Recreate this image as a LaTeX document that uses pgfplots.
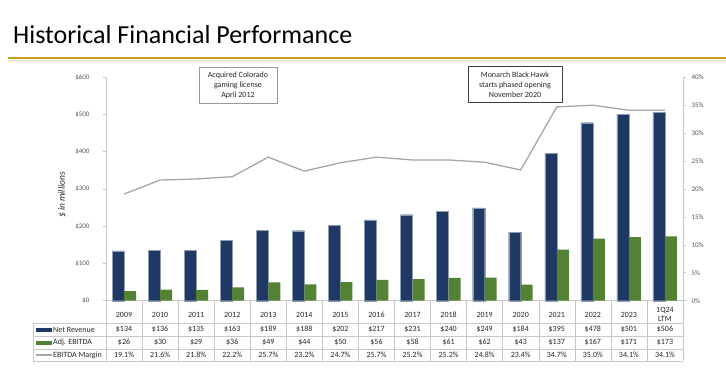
\documentclass[border=0pt]{standalone}
\usepackage{pgfplots}
\pgfplotsset{compat=1.18}
\usepackage{fontspec}
\setmainfont{Carlito}
\definecolor{navy}{RGB}{31,56,100}
\definecolor{bargreen}{RGB}{84,130,53}
\definecolor{linegray}{RGB}{166,166,166}
\definecolor{gold}{RGB}{200,158,30}
\definecolor{gridc}{RGB}{200,200,200}
\definecolor{tickc}{RGB}{89,89,89}
\begin{document}
\begin{tikzpicture}
\begin{scope}[x=1pt,y=1pt]
\useasboundingbox (0,0) rectangle (726,372);
\node[anchor=base west, inner sep=0, font=\fontsize{26}{30}\selectfont] at (13,328.7) {Historical Financial Performance};
\draw[gold!22, line width=2pt] (8,311.2) -- (726,311.2);
\draw[gold, line width=1.6pt] (8,313.7) -- (726,313.7);
\end{scope}

\begin{axis}[at={(106pt,71.3pt)}, anchor=south west, scale only axis,
  width=577pt, height=223.4pt,
  xmin=-0.5, xmax=15.5, ymin=0, ymax=600,
  axis x line*=bottom, axis y line*=left,
  axis line style={gridc, line width=0.6pt},
  xtick={0,...,15},
  xticklabels={2009,2010,2011,2012,2013,2014,2015,2016,2017,2018,2019,2020,2021,2022,2023,{1Q24\\LTM}},
  xticklabel style={anchor=center, yshift=-11.2pt, align=center, font=\fontsize{8}{9}\selectfont, text=black!85},
  xtick style={draw=none},
  ytick={0,100,...,600},
  yticklabels={\$0,\$100,\$200,\$300,\$400,\$500,\$600},
  yticklabel style={font=\fontsize{7}{8}\selectfont, text=tickc, xshift=-10pt},
  ytick style={gridc, line width=0.6pt},
  tick align=outside, major tick length=3pt,
  /pgf/number format/assume math mode=true,
  clip=false]
\addplot[ybar, bar width=12pt, bar shift=-6pt, fill=navy, draw=navy!50!white, line width=0.3pt] coordinates {
(0,134) (1,136) (2,135) (3,163) (4,189) (5,188) (6,202) (7,217) (8,231) (9,240) (10,249) (11,184) (12,395) (13,478) (14,501) (15,506)};
\addplot[ybar, bar width=12pt, bar shift=6pt, fill=bargreen, draw=none] coordinates {
(0,26) (1,30) (2,29) (3,36) (4,49) (5,44) (6,50) (7,56) (8,58) (9,61) (10,62) (11,43) (12,137) (13,167) (14,171) (15,173)};
\end{axis}

\begin{axis}[at={(106pt,71.3pt)}, anchor=south west, scale only axis,
  width=577pt, height=223.4pt,
  xmin=-0.5, xmax=15.5, ymin=0, ymax=40,
  axis x line=none, axis y line*=right,
  axis line style={gridc, line width=0.6pt},
  ytick={0,5,...,40},
  yticklabels={0\%,5\%,10\%,15\%,20\%,25\%,30\%,35\%,40\%},
  yticklabel style={font=\fontsize{7}{8}\selectfont, text=tickc, xshift=2pt},
  ytick style={gridc, line width=0.6pt},
  tick align=outside, major tick length=3pt,
  /pgf/number format/assume math mode=true,
  clip=false]
\addplot[linegray, line width=1.3pt, no marks] coordinates {
(0,19.1) (1,21.6) (2,21.8) (3,22.2) (4,25.7) (5,23.2) (6,24.7) (7,25.7) (8,25.2) (9,25.2) (10,24.8) (11,23.4) (12,34.7) (13,35.0) (14,34.1) (15,34.1)};
\end{axis}

\begin{scope}[x=1pt,y=1pt]
% table grid
\foreach \yy in {49,35.5,23,11} \draw[gridc, line width=0.5pt] (33,\yy) -- (683,\yy);
\foreach \k in {0,...,16} \draw[gridc, line width=0.5pt] (106+36.0625*\k,71.3) -- (106+36.0625*\k,11);
\draw[gridc, line width=0.5pt] (33,49) -- (33,11);
% legend column
\fill[navy] (36,40.3) rectangle (52,44.3);
\node[anchor=west, inner sep=0, font=\fontsize{8}{9}\selectfont, text=black!85] at (53,42.3) {Net Revenue};
\fill[bargreen] (36,27.3) rectangle (52,31.3);
\node[anchor=west, inner sep=0, font=\fontsize{8}{9}\selectfont, text=black!85] at (53,29.3) {Adj. EBITDA};
\draw[linegray, line width=1.3pt] (36,17) -- (52,17);
\node[anchor=west, inner sep=0, font=\fontsize{8}{9}\selectfont, text=black!85] at (53,17) {EBITDA Margin};
% rows
\foreach \v [count=\i from 0] in {134,136,135,163,189,188,202,217,231,240,249,184,395,478,501,506}
  \node[font=\fontsize{8}{9}\selectfont, text=black!85] at (124.03+36.0625*\i,42.3) {\$\v};
\foreach \v [count=\i from 0] in {26,30,29,36,49,44,50,56,58,61,62,43,137,167,171,173}
  \node[font=\fontsize{8}{9}\selectfont, text=black!85] at (124.03+36.0625*\i,29.3) {\$\v};
\foreach \v [count=\i from 0] in {19.1,21.6,21.8,22.2,25.7,23.2,24.7,25.7,25.2,25.2,24.8,23.4,34.7,35.0,34.1,34.1}
  \node[font=\fontsize{8}{9}\selectfont, text=black!85] at (124.03+36.0625*\i,17) {\v\%};
% y label
\node[rotate=90, font=\fontsize{9.5}{11}\selectfont\itshape, text=black!85] at (62,177) {\$ in millions};
% annotations
\node[draw=gray!80, line width=0.6pt, fill=white, align=center, font=\fontsize{8}{10}\selectfont, text=black!85, minimum width=78pt, minimum height=36pt, inner sep=1pt] at (238,287) {Acquired Colorado\\gaming license\\April 2012};
\node[draw=black!75, line width=1pt, fill=white, align=center, font=\fontsize{8}{10}\selectfont, text=black!85, minimum width=94pt, minimum height=36pt, inner sep=1pt] at (515,287) {Monarch Black Hawk\\starts phased opening\\November 2020};
\end{scope}
\end{tikzpicture}
\end{document}
